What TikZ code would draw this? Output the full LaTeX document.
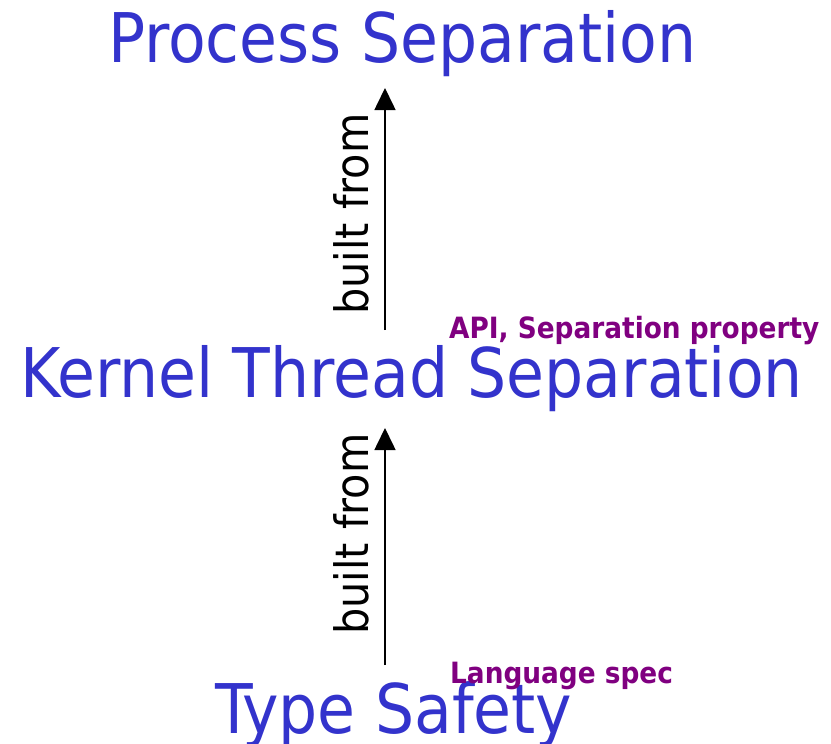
\documentclass[tikz,border=0pt]{standalone}
\usepackage{fontspec}
\setmainfont{DejaVu Sans Condensed}
\usetikzlibrary{arrows.meta}
\definecolor{titleblue}{HTML}{3333CC}
\definecolor{notepurple}{HTML}{800080}
\begin{document}
\begin{tikzpicture}[x=1pt,y=-1pt,
  level/.style={text=titleblue,font=\fontsize{68.5}{72}\selectfont,inner sep=0pt,anchor=base west},
  note/.style={text=notepurple,font=\bfseries\fontsize{29.3}{32}\selectfont,inner sep=0pt,anchor=base west},
  rel/.style={font=\fontsize{46}{50}\selectfont,inner sep=0pt,rotate=90},
  builds/.style={-{Triangle[length=22pt,width=21pt]},line width=1.6pt}]
\useasboundingbox (0,0) rectangle (831,744);
\node[level] (ps) at (108,62) {Process Separation};
\node[level] (kts) at (20,397) {Kernel Thread Separation};
\node[level] (ts) at (215,733) {Type Safety};
\node[note] (api) at (449,338) {API, Separation property};
\node[note] (lang) at (450,683) {Language spec};
\coordinate (a1s) at (385,330);
\coordinate (a1e) at (385,88);
\coordinate (a2s) at (385,665);
\coordinate (a2e) at (385,428);
\draw[builds] (a1s) -- (a1e);
\draw[builds] (a2s) -- (a2e);
\node[rel,anchor=base] (b1) at (368,214) {built from};
\node[rel,anchor=base] (b2) at (368,534) {built from};
\end{tikzpicture}
\end{document}
